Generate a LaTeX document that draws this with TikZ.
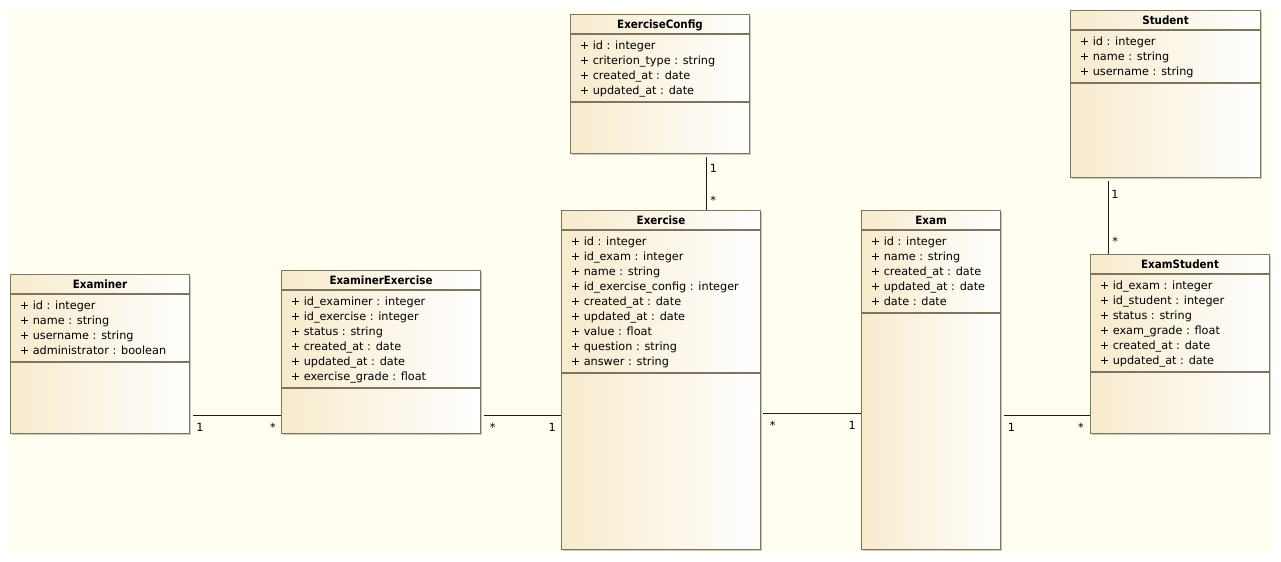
\documentclass[tikz,border=0pt]{standalone}
\usepackage{fontspec}
\setmainfont{DejaVu Sans}
\newfontfamily\titlefont[FakeStretch=0.9]{DejaVu Sans}
\usetikzlibrary{calc}
\definecolor{bgcream}{RGB}{255,254,240}
\definecolor{boxtan}{RGB}{247,235,205}
\definecolor{boxwhite}{RGB}{255,255,255}
\definecolor{boxborder}{RGB}{125,117,95}
\definecolor{boxshadow}{RGB}{205,200,185}
\definecolor{linkgray}{RGB}{30,30,30}
\tikzset{
  classbox/.style={draw=boxborder, line width=0.8pt, left color=boxtan, right color=boxwhite, inner sep=0pt, anchor=north west},
  classline/.style={draw=boxborder, line width=0.8pt},
  ctitle/.style={inner sep=0pt, anchor=base, font=\titlefont\bfseries\fontsize{8.6pt}{10pt}\selectfont},
  attr/.style={inner sep=0pt, anchor=base west, font=\fontsize{8.45pt}{10pt}\selectfont},
  mult/.style={inner sep=0pt, font=\fontsize{8.45pt}{10pt}\selectfont},
  link/.style={draw=linkgray, line width=0.75pt}
}
% name, left, top, right, bottom, separator y, title, attributes
\newcommand\umlclass[8]{%
  \fill[boxshadow] (#2+1.5,#3+1.5) rectangle (#4+1.5,#5+1.5);
  \node[classbox, minimum width={(#4-#2)*0.75pt}, minimum height={(#5-#3)*0.75pt}] (#1) at (#2,#3) {};
  \draw[classline] ($(#1.north west)+(0,20)$) -- ($(#1.north east)+(0,20)$);
  \draw[classline] ($(#1.north west)+(0,#6-#3)$) -- ($(#1.north east)+(0,#6-#3)$);
  \node[ctitle] (#1-title) at ($(#1.north)+(0,14)$) {#7};
  \foreach \t [count=\i] in {#8} {
    \node[attr] (#1-a\i) at ($(#1.north west)+(9.5,20+15*\i)$) {\t};
  }
}
\begin{document}
\begin{tikzpicture}[x=0.75pt, y=-0.75pt]
\useasboundingbox (0,0) rectangle (1281,561);
\fill[bgcream] (9,9) rectangle (1272,553);

\umlclass{examiner}{10}{274}{189}{433}{362}{Examiner}%
  {+ id : integer, + name : string, + username : string, + administrator : boolean}
\umlclass{exex}{281}{270}{480}{433}{388}{ExaminerExercise}%
  {+ id\_examiner : integer, + id\_exercise : integer, + status : string, + created\_at : date, + updated\_at : date, + exercise\_grade : float}
\umlclass{excfg}{570}{14}{749}{153}{102}{ExerciseConfig}%
  {+ id : integer, + criterion\_type : string, + created\_at : date, + updated\_at : date}
\umlclass{exercise}{561}{210}{760}{549}{373}{Exercise}%
  {+ id : integer, + id\_exam : integer, + name : string, + id\_exercise\_config : integer, + created\_at : date, + updated\_at : date, + value : float, + question : string, + answer : string}
\umlclass{exam}{861}{210}{1000}{549}{313}{Exam}%
  {+ id : integer, + name : string, + created\_at : date, + updated\_at : date, + date : date}
\umlclass{student}{1070}{10}{1260}{177}{83}{Student}%
  {+ id : integer, + name : string, + username : string}
\umlclass{examstudent}{1090}{254}{1269}{433}{372}{ExamStudent}%
  {+ id\_exam : integer, + id\_student : integer, + status : string, + exam\_grade : float, + created\_at : date, + updated\_at : date}

% connector end points
\coordinate (c1s) at ($(examiner.south east)+(2.5,-19)$);
\coordinate (c1e) at (c1s -| exex.west);
\coordinate (c2s) at ($(exex.south east)+(3,-19)$);
\coordinate (c2e) at (c2s -| exercise.west);
\coordinate (c3s) at ($(exercise.north east)+(2,203)$);
\coordinate (c3e) at (c3s -| exam.west);
\coordinate (c4e) at ($(examstudent.south west)+(0,-19)$);
\coordinate (c4s) at ($(c4e -| exam.east)+(2.5,0)$);
\coordinate (c5s) at ($(excfg.south west)+(136,2.5)$);
\coordinate (c5e) at (c5s |- exercise.north);
\coordinate (c6s) at ($(student.south west)+(38,2.5)$);
\coordinate (c6e) at (c6s |- examstudent.north);

\draw[link] (c1s) -- (c1e);
\draw[link] (c2s) -- (c2e);
\draw[link] (c3s) -- (c3e);
\draw[link] (c4s) -- (c4e);
\draw[link] (c5s) -- (c5e);
\draw[link] (c6s) -- (c6e);

\node[mult, anchor=base west] (m1a) at ($(c1s)+(3.5,16)$) {1};
\node[mult, anchor=base east] (m1b) at ($(c1e)+(-5,16)$) {*};
\node[mult, anchor=base west] (m2a) at ($(c2s)+(5.5,16)$) {*};
\node[mult, anchor=base east] (m2b) at ($(c2e)+(-5,16)$) {1};
\node[mult, anchor=base west] (m3a) at ($(c3s)+(6.5,16)$) {*};
\node[mult, anchor=base east] (m3b) at ($(c3e)+(-5,16)$) {1};
\node[mult, anchor=base west] (m4a) at ($(c4s)+(4,16)$) {1};
\node[mult, anchor=base east] (m4b) at ($(c4e)+(-6,16)$) {*};
\node[mult, anchor=base west] (m5a) at ($(c5s)+(3.5,15.5)$) {1};
\node[mult, anchor=base west] (m5b) at ($(c5e)+(4,-6)$) {*};
\node[mult, anchor=base west] (m6a) at ($(c6s)+(3,17.5)$) {1};
\node[mult, anchor=base west] (m6b) at ($(c6e)+(4,-9)$) {*};
\end{tikzpicture}
\end{document}
